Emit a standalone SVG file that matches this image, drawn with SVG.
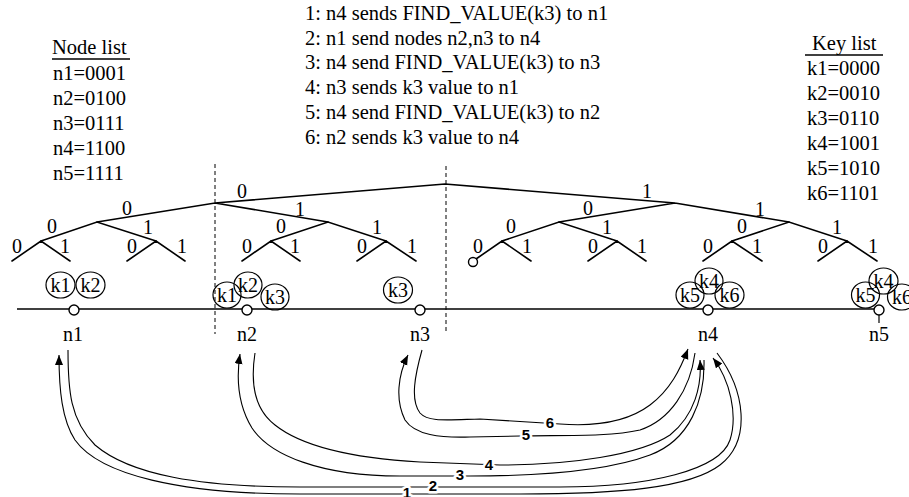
<svg xmlns="http://www.w3.org/2000/svg" width="909" height="497" viewBox="0 0 909 497">
<defs>
<marker id="ah" markerUnits="userSpaceOnUse" markerWidth="11" markerHeight="9" refX="10" refY="4" orient="auto" viewBox="0 0 11 9">
<path d="M0,0 L10,4 L0,8 z" fill="#000"/>
</marker>
</defs>
<style>
text{font-family:"Liberation Serif","Times New Roman",serif;fill:#000}
.lst{font-size:20.5px}
.lbl{font-size:20px;text-anchor:middle}
.tree{stroke:#000;stroke-width:1.6;fill:none;stroke-linecap:round}
.dash{stroke:#000;stroke-width:1;stroke-dasharray:4,3;fill:none}
.bus{stroke:#000;stroke-width:1.6;fill:none}
.node{fill:#fff;stroke:#000;stroke-width:1.4}
.key{fill:none;stroke:#000;stroke-width:1.2}
.msg{fill:none;stroke:#000;stroke-width:1.1;marker-end:url(#ah)}
.num{font-family:"Liberation Sans",Arial,sans-serif;font-weight:bold;font-size:15px;text-anchor:middle;stroke:#fff;stroke-width:5;paint-order:stroke;stroke-linejoin:round}
</style>

<g id="node-list">
<text class="lst" x="52" y="54">Node list</text>
<line x1="52" y1="59" x2="130" y2="59" stroke="#000" stroke-width="1.4"/>
<text class="lst" x="53" y="80">n1=0001</text>
<text class="lst" x="53" y="105">n2=0100</text>
<text class="lst" x="53" y="130">n3=0111</text>
<text class="lst" x="53" y="155">n4=1100</text>
<text class="lst" x="53" y="180">n5=1111</text>
</g>

<g id="messages">
<text class="lst" x="305" y="20">1: n4 sends FIND_VALUE(k3) to n1</text>
<text class="lst" x="305" y="44.7">2: n1 send nodes n2,n3 to n4</text>
<text class="lst" x="305" y="69.4">3: n4 send FIND_VALUE(k3) to n3</text>
<text class="lst" x="305" y="94.1">4: n3 sends k3 value to n1</text>
<text class="lst" x="305" y="118.8">5: n4 send FIND_VALUE(k3) to n2</text>
<text class="lst" x="305" y="143.5">6: n2 sends k3 value to n4</text>
</g>

<g id="key-list">
<text class="lst" x="812" y="50">Key list</text>
<line x1="805" y1="55" x2="883" y2="55" stroke="#000" stroke-width="1.4"/>
<text class="lst" x="807" y="75">k1=0000</text>
<text class="lst" x="807" y="100">k2=0010</text>
<text class="lst" x="807" y="125">k3=0110</text>
<text class="lst" x="807" y="150">k4=1001</text>
<text class="lst" x="807" y="175">k5=1010</text>
<text class="lst" x="807" y="200">k6=1101</text>
</g>

<g id="tree">
<path class="tree" d="M215,203 L445,184 L675,203 M97,222 L215,203 L328,222 M559,222 L675,203 L789,222"/>
<path class="tree" d="M41,241 L97,222 L156,241 M271,241 L328,222 L386,241 M502,241 L559,222 L617,241 M732,241 L789,222 L847,241"/>
<path class="tree" d="M12,261 L41,241 L70,261 M127,261 L156,241 L185,261 M242,261 L271,241 L300,261 M357,261 L386,241 L416,261 M476,259 L502,241 L531,261 M588,261 L617,241 L646,261 M703,261 L732,241 L762,261 M818,261 L847,241 L877,261"/>
<circle class="node" cx="473" cy="262" r="4.5"/>
<text class="lbl" x="242" y="198">0</text>
<text class="lbl" x="647" y="198">1</text>
<text class="lbl" x="127" y="215">0</text>
<text class="lbl" x="300" y="216">1</text>
<text class="lbl" x="588" y="215">0</text>
<text class="lbl" x="760" y="216">1</text>
<text class="lbl" x="52" y="233">0</text>
<text class="lbl" x="148" y="234">1</text>
<text class="lbl" x="281" y="233">0</text>
<text class="lbl" x="377" y="234">1</text>
<text class="lbl" x="511" y="233">0</text>
<text class="lbl" x="607" y="234">1</text>
<text class="lbl" x="742" y="233">0</text>
<text class="lbl" x="837" y="234">1</text>
<text class="lbl" x="17" y="253">0</text>
<text class="lbl" x="65" y="253">1</text>
<text class="lbl" x="132" y="253">0</text>
<text class="lbl" x="182" y="253">1</text>
<text class="lbl" x="247" y="253">0</text>
<text class="lbl" x="295" y="253">1</text>
<text class="lbl" x="362" y="253">0</text>
<text class="lbl" x="412" y="253">1</text>
<text class="lbl" x="478" y="253">0</text>
<text class="lbl" x="527" y="253">1</text>
<text class="lbl" x="593" y="253">0</text>
<text class="lbl" x="642" y="253">1</text>
<text class="lbl" x="708" y="253">0</text>
<text class="lbl" x="757" y="253">1</text>
<text class="lbl" x="823" y="253">0</text>
<text class="lbl" x="873" y="253">1</text>
</g>

<g id="dividers">
<line class="dash" x1="215" y1="164" x2="215" y2="334"/>
<line class="dash" x1="446" y1="166" x2="446" y2="334" stroke="#555"/>
</g>

<g id="bus">
<line class="bus" x1="17" y1="309" x2="876" y2="309"/>
<line x1="879" y1="315" x2="879" y2="323" stroke="#000" stroke-width="1.2"/>
</g>

<g id="n1">
<circle class="node" cx="74" cy="310" r="5"/>
<text class="lbl" x="73" y="341">n1</text>
<ellipse class="key" cx="60.5" cy="285" rx="14.5" ry="13"/>
<text class="lbl" x="60.5" y="292">k1</text>
<ellipse class="key" cx="90.5" cy="285" rx="14.5" ry="13"/>
<text class="lbl" x="90.5" y="292">k2</text>
</g>

<g id="n2">
<circle class="node" cx="247" cy="310" r="5"/>
<text class="lbl" x="247" y="341">n2</text>
<ellipse class="key" cx="227" cy="295" rx="14" ry="13"/>
<text class="lbl" x="227" y="302">k1</text>
<ellipse class="key" cx="248" cy="285" rx="14" ry="13"/>
<text class="lbl" x="248" y="292">k2</text>
<ellipse class="key" cx="275" cy="297" rx="14" ry="13"/>
<text class="lbl" x="275" y="304">k3</text>
</g>

<g id="n3">
<circle class="node" cx="420" cy="310" r="5"/>
<text class="lbl" x="420" y="341">n3</text>
<ellipse class="key" cx="398" cy="290" rx="14.5" ry="13"/>
<text class="lbl" x="398" y="297">k3</text>
</g>

<g id="n4">
<circle class="node" cx="708" cy="310" r="5"/>
<text class="lbl" x="708" y="341">n4</text>
<ellipse class="key" cx="690" cy="295" rx="14" ry="13"/>
<text class="lbl" x="690" y="302">k5</text>
<ellipse class="key" cx="709" cy="281" rx="14" ry="13"/>
<text class="lbl" x="709" y="288">k4</text>
<ellipse class="key" cx="729.5" cy="295" rx="14.5" ry="13"/>
<text class="lbl" x="729.5" y="302">k6</text>
</g>

<g id="n5">
<circle class="node" cx="879" cy="310" r="5"/>
<text class="lbl" x="879" y="341">n5</text>
<ellipse class="key" cx="865.5" cy="295" rx="14" ry="13"/>
<text class="lbl" x="865.5" y="302">k5</text>
<ellipse class="key" cx="883.5" cy="281" rx="14.5" ry="13"/>
<text class="lbl" x="883.5" y="288">k4</text>
<ellipse class="key" cx="902" cy="297" rx="14.5" ry="13"/>
<text class="lbl" x="902" y="304">k6</text>
</g>

<g id="connectors">
<path class="msg" d="M717,353 C745,390 752,440 720,465 C690,488 620,494 520,494 L300,494 C180,494 100,475 75,440 C62,420 59,390 59,355"/>
<path class="msg" d="M68,350 C68,390 70,420 95,445 C130,475 200,487 300,487 L560,487 C650,487 720,470 730,440 C738,415 730,380 713,358"/>
<path class="msg" d="M704,360 C705,400 690,440 650,455 C610,470 550,476 470,476 L400,476 C320,476 270,455 252,428 C238,405 236,380 240,354"/>
<path class="msg" d="M255,353 C250,385 255,410 275,425 C300,445 350,458 420,462 L500,465 C570,465 640,455 670,435 C695,415 702,385 700,360"/>
<path class="msg" d="M695,353 C690,390 670,420 640,430 C610,437 560,435 520,436 L470,437 C440,438 415,435 405,420 C395,400 398,375 408,355"/>
<path class="msg" d="M422,350 C415,375 410,400 420,413 C428,422 445,420 480,419 L560,424 C600,427 630,420 650,405 C670,390 680,370 688,349"/>
<text class="num" x="407" y="498">1</text>
<text class="num" x="433" y="491">2</text>
<text class="num" x="460" y="480">3</text>
<text class="num" x="489" y="470">4</text>
<text class="num" x="526" y="440">5</text>
<text class="num" x="550" y="428">6</text>
</g>
</svg>
